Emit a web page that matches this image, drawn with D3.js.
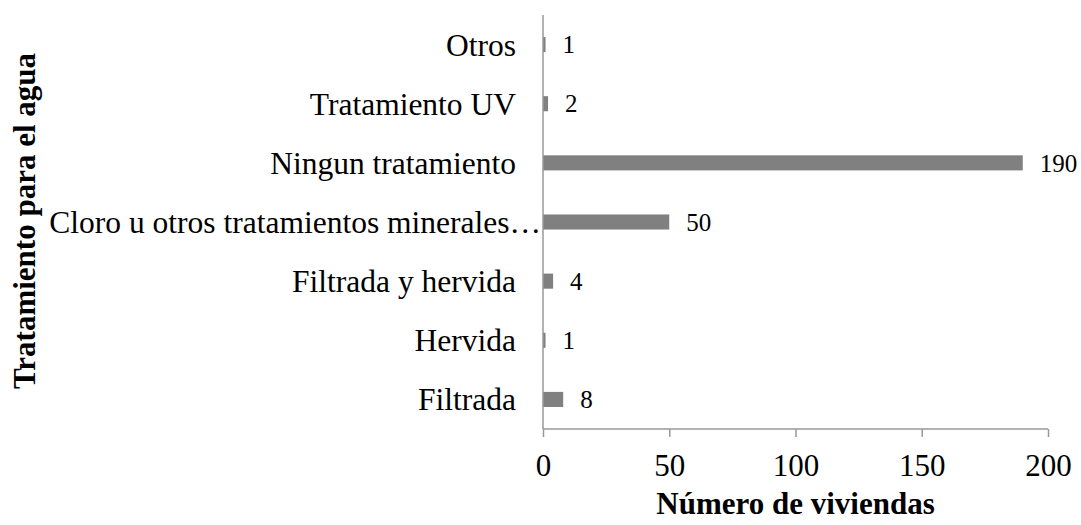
<!DOCTYPE html>
<html>
<head>
<meta charset="utf-8">
<script src="https://cdn.jsdelivr.net/npm/d3@7"></script>
<style>
  body { margin: 0; background: #fff; }
  text { font-family: "Liberation Serif", "Times New Roman", serif; }
</style>
</head>
<body>
<svg id="chart" width="1081" height="525"></svg>
<script>
// data (top to bottom)
var categories = ["Otros", "Tratamiento UV", "Ningun tratamiento", "Cloro u otros tratamientos minerales…", "Filtrada y hervida", "Hervida", "Filtrada"]
var values = [1, 2, 190, 50, 4, 1, 8]
var xTicks = [0, 50, 100, 150, 200]

var margin = { top: 15, left: 543, right: 33, bottom: 96 }
var width = 1081 - margin.left - margin.right
var height = 525 - margin.top - margin.bottom

var svg = d3.select("#chart")
var g = svg.append("g")
    .attr("transform", "translate(" + margin.left + "," + margin.top + ")")

var data = categories.map((c, i) => ({ name: c, value: values[i] }))

var x = d3.scaleLinear()
    .domain([0, 200])
    .range([0, width])

var y = d3.scaleBand()
    .domain(categories)
    .range([0, height])
    .paddingInner(0.745)
    .paddingOuter(0.3725)

// bars
g.selectAll(".bar")
    .data(data)
    .join("rect")
    .attr("class", "bar")
    .attr("x", 0)
    .attr("y", d => y(d.name))
    .attr("width", d => x(d.value))
    .attr("height", y.bandwidth())
    .attr("fill", "#808080")

// value labels
g.selectAll(".val")
    .data(data)
    .join("text")
    .attr("class", "val")
    .attr("x", d => x(d.value) + 17)
    .attr("y", d => y(d.name) + y.bandwidth() / 2)
    .attr("dy", "0.35em")
    .style("font-size", "25px")
    .style("fill", "#000")
    .text(d => d.value)

// category labels (the truncated one runs up to the axis)
g.selectAll(".cat")
    .data(data)
    .join("text")
    .attr("class", "cat")
    .attr("x", d => d.name.endsWith("…") ? -2 : -27)
    .attr("y", d => y(d.name) + y.bandwidth() / 2)
    .attr("dy", "0.35em")
    .attr("text-anchor", "end")
    .style("font-size", "31.5px")
    .style("fill", "#000")
    .text(d => d.name)

// x axis
var xAxis = g.append("g")
    .attr("transform", "translate(0," + height + ")")
    .call(d3.axisBottom(x).tickValues(xTicks).tickSize(8).tickPadding(17))
xAxis.select(".domain").attr("stroke", "#999").attr("stroke-width", 1.5)
    .attr("d", "M0,0H" + width)
xAxis.selectAll(".tick line").attr("stroke", "#999").attr("stroke-width", 1.5)
xAxis.selectAll(".tick text")
    .style("font-size", "31px")
    .style("font-family", "Liberation Serif, serif")
    .attr("fill", "#000")

// y axis line
g.append("line")
    .attr("x1", 0).attr("x2", 0)
    .attr("y1", 0).attr("y2", height)
    .attr("stroke", "#999")
    .attr("stroke-width", 1.5)

// axis titles
svg.append("text")
    .attr("x", margin.left + width / 2)
    .attr("y", 514)
    .attr("text-anchor", "middle")
    .style("font-size", "31px")
    .style("font-weight", "bold")
    .text("Número de viviendas")

svg.append("text")
    .attr("transform", "translate(35,221) rotate(-90)")
    .attr("text-anchor", "middle")
    .style("font-size", "31px")
    .style("font-weight", "bold")
    .text("Tratamiento para el agua")
</script>
</body>
</html>
